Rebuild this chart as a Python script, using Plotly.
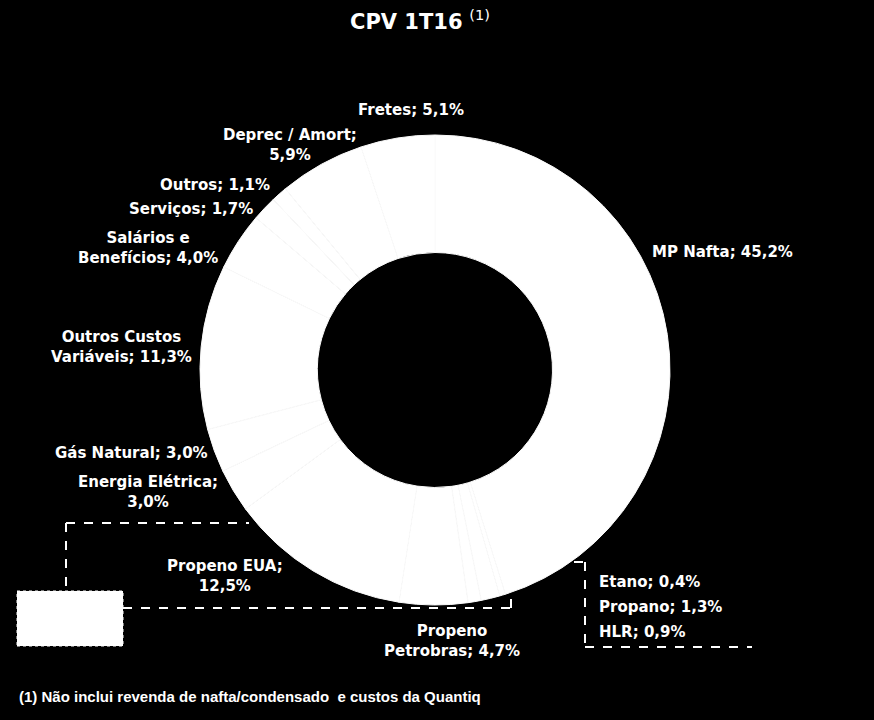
import plotly.graph_objects as go

W, H = 874, 720

categories = ["MP Nafta", "Etano", "Propano", "HLR", "Propeno Petrobras", "Propeno EUA",
              "Energia Elétrica", "Gás Natural", "Outros Custos Variáveis",
              "Salários e Benefícios", "Serviços", "Outros", "Deprec / Amort", "Fretes"]
values = [45.2, 0.4, 1.3, 0.9, 4.7, 12.5, 3.0, 3.0, 11.3, 4.0, 1.7, 1.1, 5.9, 5.1]

label_texts = {
    "MP Nafta": "MP Nafta; 45,2%",
    "Etano": "Etano; 0,4%",
    "Propano": "Propano; 1,3%",
    "HLR": "HLR; 0,9%",
    "Propeno Petrobras": "Propeno<br>Petrobras; 4,7%",
    "Propeno EUA": "Propeno EUA;<br>12,5%",
    "Energia Elétrica": "Energia Elétrica;<br>3,0%",
    "Gás Natural": "Gás Natural; 3,0%",
    "Outros Custos Variáveis": "Outros Custos<br>Variáveis; 11,3%",
    "Salários e Benefícios": "Salários e<br>Benefícios; 4,0%",
    "Serviços": "Serviços; 1,7%",
    "Outros": "Outros; 1,1%",
    "Deprec / Amort": "Deprec / Amort;<br>5,9%",
    "Fretes": "Fretes; 5,1%",
}

# label placement in pixels (x, y, xanchor)
label_pos = {
    "MP Nafta": (722, 252, "center"),
    "Etano": (597, 582, "left"),
    "Propano": (597, 607, "left"),
    "HLR": (597, 632, "left"),
    "Propeno Petrobras": (452, 641, "center"),
    "Propeno EUA": (225, 576, "center"),
    "Energia Elétrica": (148, 492, "center"),
    "Gás Natural": (131, 453, "center"),
    "Outros Custos Variáveis": (121, 347, "center"),
    "Salários e Benefícios": (148, 248, "center"),
    "Serviços": (191, 209, "center"),
    "Outros": (215, 185, "center"),
    "Deprec / Amort": (290, 145, "center"),
    "Fretes": (411, 110, "center"),
}

FONT = "DejaVu Sans"

def px(x):
    return x / W

def py(y):
    return 1 - y / H

fig = go.Figure(go.Pie(
    labels=categories, values=values, sort=False, direction="clockwise",
    rotation=0, hole=0.5, textinfo="none", hoverinfo="label+percent",
    marker=dict(colors=["#ffffff"] * len(values), line=dict(color="#fafafa", width=1)),
    domain=dict(x=[px(200), px(670)], y=[py(605), py(135)]),
    showlegend=False,
))

annotations = []
for c in categories:
    x, y, xa = label_pos[c]
    annotations.append(dict(
        x=px(x), y=py(y), xref="paper", yref="paper", xanchor=xa, yanchor="middle",
        text="<b>" + label_texts[c] + "</b>", showarrow=False, align="center",
        font=dict(family=FONT, size=15, color="white"),
    ))

annotations.append(dict(
    x=px(420), y=py(20), xref="paper", yref="paper", xanchor="center", yanchor="middle",
    text="<b>CPV 1T16</b> <sup>(1)</sup>", showarrow=False,
    font=dict(family=FONT, size=21, color="white"),
))
annotations.append(dict(
    x=px(17), y=py(696), xref="paper", yref="paper", xanchor="left", yanchor="middle",
    text="<b>(1) Não inclui revenda de nafta/condensado  e custos da Quantiq</b>", showarrow=False,
    font=dict(family="Liberation Sans", size=15, color="white"),
))

dash = dict(color="white", width=2, dash="dash")
segments = [
    ((66, 523), (249, 523)),
    ((66, 523), (66, 591)),
    ((123, 608), (511, 608)),
    ((511, 608), (511, 597)),
    ((574, 562), (585, 562)),
    ((585, 562), (585, 647)),
    ((585, 647), (752, 647)),
]
shapes = []
for (x0, y0), (x1, y1) in segments:
    shapes.append(dict(type="line", xref="paper", yref="paper",
                       x0=px(x0), y0=py(y0), x1=px(x1), y1=py(y1), line=dash))
shapes.append(dict(type="rect", xref="paper", yref="paper",
                   x0=px(17), y0=py(646), x1=px(123), y1=py(591),
                   fillcolor="white", line=dict(color="white", width=1, dash="dot")))

fig.update_layout(
    width=W, height=H, paper_bgcolor="black", plot_bgcolor="black",
    margin=dict(l=0, r=0, t=0, b=0),
    annotations=annotations, shapes=shapes,
)

fig.write_html("out.html")
